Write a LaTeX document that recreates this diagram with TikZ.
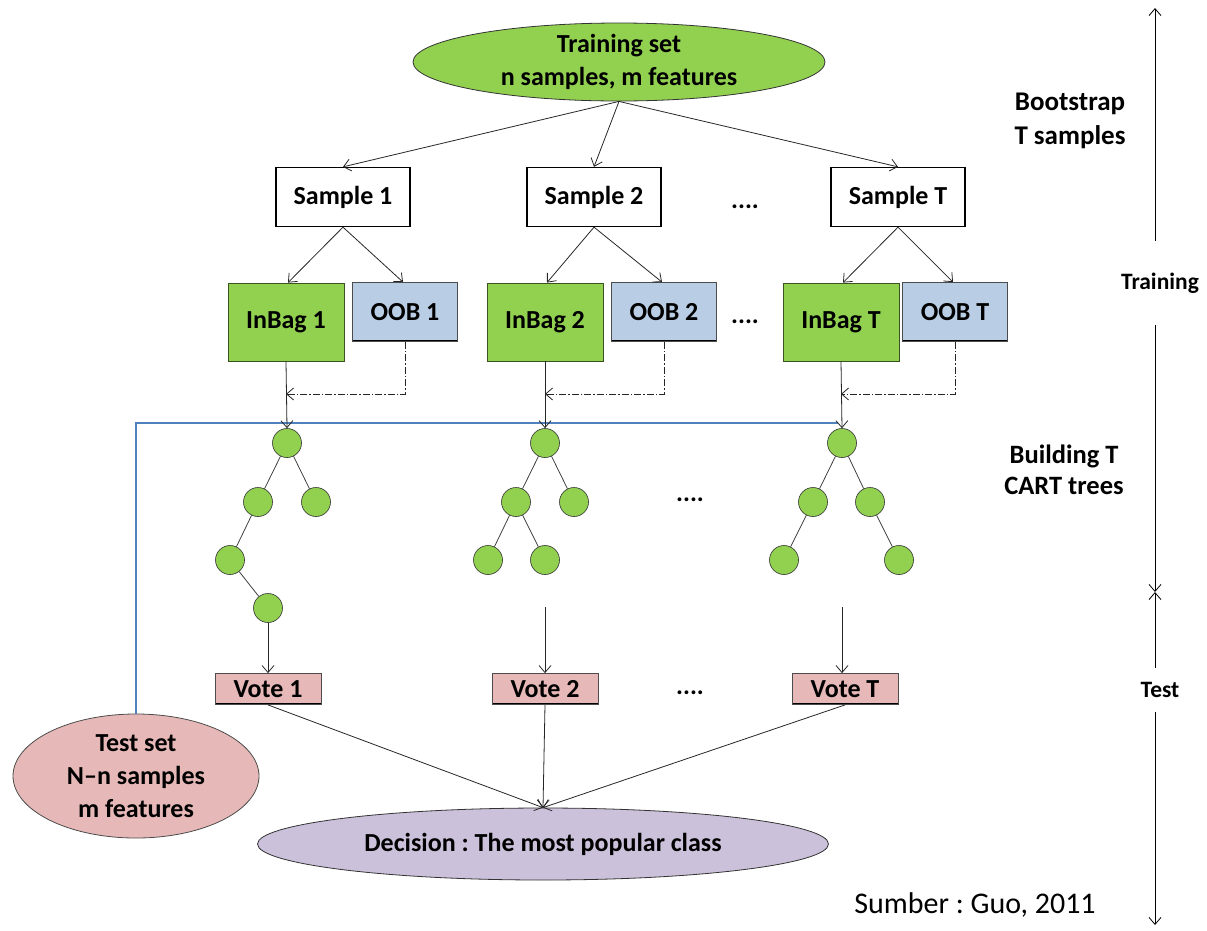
\documentclass[tikz,border=0pt]{standalone}
\usepackage{fontspec}
\setmainfont{Carlito}
\usetikzlibrary{arrows.meta,shapes.geometric}
\definecolor{cgreen}{HTML}{92D050}
\definecolor{cblue}{HTML}{B9CDE5}
\definecolor{cpink}{HTML}{E6B9B8}
\definecolor{clav}{HTML}{CCC1DA}
\definecolor{cline}{HTML}{4F81BD}
\frenchspacing
\begin{document}
\begin{tikzpicture}[x=1pt,y=-1pt,
  mainfont/.style={font=\fontsize{26}{33}\selectfont\bfseries},
  sidefont/.style={font=\fontsize{23.5}{33}\selectfont\bfseries},
  arr/.style={draw=black!85, line width=0.8pt, -{Straight Barb[length=7pt,width=12pt]}},
  dashdot/.style={draw=black!85, line width=0.8pt, dash pattern=on 7pt off 2pt on 1.5pt off 2pt, -{Straight Barb[length=7pt,width=12pt]}},
  botedge/.style={path picture={\draw[line width=4pt,black] (path picture bounding box.south west) -- (path picture bounding box.south east);}},
  samplebox/.style={draw, line width=1.3pt, fill=white, minimum width=134pt, minimum height=59pt, inner sep=0pt, mainfont},
  inbag/.style={draw=black!60!cgreen, line width=0.8pt, fill=cgreen, minimum width=116pt, minimum height=78pt, inner sep=0pt, mainfont},
  oob/.style={draw=black!70, line width=0.8pt, fill=cblue, minimum width=105pt, minimum height=59pt, inner sep=0pt, mainfont, botedge},
  vote/.style={draw=black!70, line width=0.8pt, fill=cpink, minimum width=106pt, minimum height=31pt, inner sep=0pt, mainfont, botedge},
  tn/.style={circle, draw=black!80, line width=0.6pt, fill=cgreen, minimum size=29pt, inner sep=0pt},
  te/.style={draw=black!75, line width=0.8pt},
  dots/.style={font=\fontsize{26}{30}\selectfont\bfseries}
]
\useasboundingbox (0,0) rectangle (1207,930);

% Training set
\node[ellipse, draw=black!80, line width=0.8pt, fill=cgreen, minimum width=412pt, minimum height=78pt, inner sep=0pt,
  label={[mainfont, align=center]center:Training set\\n samples, m features}] (train) at (619,62) {};

% Samples
\node[samplebox] (s1) at (343,197) {Sample 1};
\node[samplebox] (s2) at (594,197) {Sample 2};
\node[samplebox] (sT) at (898,197) {Sample T};
\node[dots] (d1) at (745,207) {....};

\draw[arr] (train.south) -- (s1.north);
\draw[arr] (train.south) -- (s2.north);
\draw[arr] (train.south) -- (sT.north);

% InBag / OOB
\node[inbag] (ib1) at (286,322) {InBag 1};
\node[oob] (oob1) at (405,312) {OOB 1};
\node[inbag] (ib2) at (545,322) {InBag 2};
\node[oob] (oob2) at (664,312) {OOB 2};
\node[inbag] (ibT) at (841,322) {InBag T};
\node[oob] (oobT) at (955,312) {OOB T};
\node[dots] (d2) at (745,322) {....};

\draw[arr] (s1.south) -- ([xshift=2pt]ib1.north);
\draw[arr] (s1.south) -- ([xshift=-2pt]oob1.north);
\draw[arr] (s2.south) -- ([xshift=2pt]ib2.north);
\draw[arr] (s2.south) -- ([xshift=-2pt]oob2.north);
\draw[arr] (sT.south) -- ([xshift=2pt]ibT.north);
\draw[arr] (sT.south) -- ([xshift=-2pt]oobT.north);

% Trees
\node[tn] (r1) at (287,443) {};
\node[tn] (a1) at (258,502) {};
\node[tn] (b1) at (316,502) {};
\node[tn] (c1) at (230,560) {};
\node[tn] (e1) at (268,608) {};
\draw[te] (r1) -- (a1); \draw[te] (r1) -- (b1);
\draw[te] (a1) -- (c1); \draw[te] (c1) -- (e1);

\node[tn] (r2) at (545,443) {};
\node[tn] (a2) at (516,502) {};
\node[tn] (b2) at (574,502) {};
\node[tn] (c2) at (488,560) {};
\node[tn] (e2) at (545,560) {};
\draw[te] (r2) -- (a2); \draw[te] (r2) -- (b2);
\draw[te] (a2) -- (c2); \draw[te] (a2) -- (e2);

\node[tn] (rT) at (842,443) {};
\node[tn] (aT) at (813,502) {};
\node[tn] (bT) at (870,502) {};
\node[tn] (cT) at (784,560) {};
\node[tn] (eT) at (899,560) {};
\draw[te] (rT) -- (aT); \draw[te] (rT) -- (bT);
\draw[te] (aT) -- (cT); \draw[te] (bT) -- (eT);
\node[dots] (d3) at (690,500) {....};

% Test set and blue line
\node[ellipse, draw=black!70, line width=0.8pt, fill=cpink, minimum width=246pt, minimum height=124pt, inner sep=0pt,
  label={[mainfont, align=center]center:Test set\\N--n samples\\m features}] (test) at (136,776) {};
\coordinate (blueend) at (838,423);
\draw[cline, line width=2.4pt] (test.north) |- (blueend);

% InBag -> root, OOB -> InBag line
\draw[arr] (ib1.south) -- (r1.north);
\draw[arr] (ib2.south) -- (r2.north);
\draw[arr] (ibT.south) -- (rT.north);
\draw[dashdot] (oob1.south) |- (ib1.south |- 0,394);
\draw[dashdot] (oob2.south) |- (ib2.south |- 0,394);
\draw[dashdot] (oobT.south) |- (ibT.south |- 0,394);

% Votes
\node[vote] (v1) at (268,689) {Vote 1};
\node[vote] (v2) at (545,689) {Vote 2};
\node[vote] (vT) at (845,689) {Vote T};
\node[dots] (d4) at (690,693) {....};
\coordinate (t2end) at (545,607);
\coordinate (tTend) at (842,607);
\draw[arr] (e1) -- (v1.north);
\draw[arr] (t2end) -- (v2.north);
\draw[arr] (tTend) -- ([xshift=-3pt]vT.north);

% Decision
\node[ellipse, draw=black!80, line width=0.8pt, fill=clav, minimum width=571pt, minimum height=72pt, inner sep=0pt, mainfont] (dec) at (543,844) {Decision : The most popular class};
\draw[arr] (v1.south) -- (dec.north);
\draw[arr] (v2.south) -- (dec.north);
\draw[arr] (vT.south) -- (dec.north);

% Side labels
\node[align=center, font=\fontsize{27}{34}\selectfont\bfseries] (lb1) at (1070,121) {Bootstrap\\T samples};
\node[align=center, font=\fontsize{26.5}{31}\selectfont\bfseries] (lb2) at (1064,470) {Building T\\CART trees};
\coordinate (axtop) at (1155,8);
\coordinate (axmid) at (1155,592);
\coordinate (axbot) at (1155,925);
\draw[line width=0.8pt, {Straight Barb[length=7pt,width=12pt]}-{Straight Barb[length=7pt,width=12pt]}] (axtop) -- (axmid);
\draw[line width=0.8pt, {Straight Barb[length=7pt,width=12pt]}-{Straight Barb[length=7pt,width=12pt]}] (axmid) -- (axbot);
\node[sidefont, fill=white, minimum height=84pt, inner sep=2pt] (lbtr) at (1160,283) {Training};
\node[sidefont, fill=white, minimum height=44pt, inner sep=2pt] (lbte) at (1160,690) {Test};

\node[font=\fontsize{30}{36}\selectfont] (src) at (975,905) {Sumber : Guo, 2011};
\end{tikzpicture}
\end{document}
